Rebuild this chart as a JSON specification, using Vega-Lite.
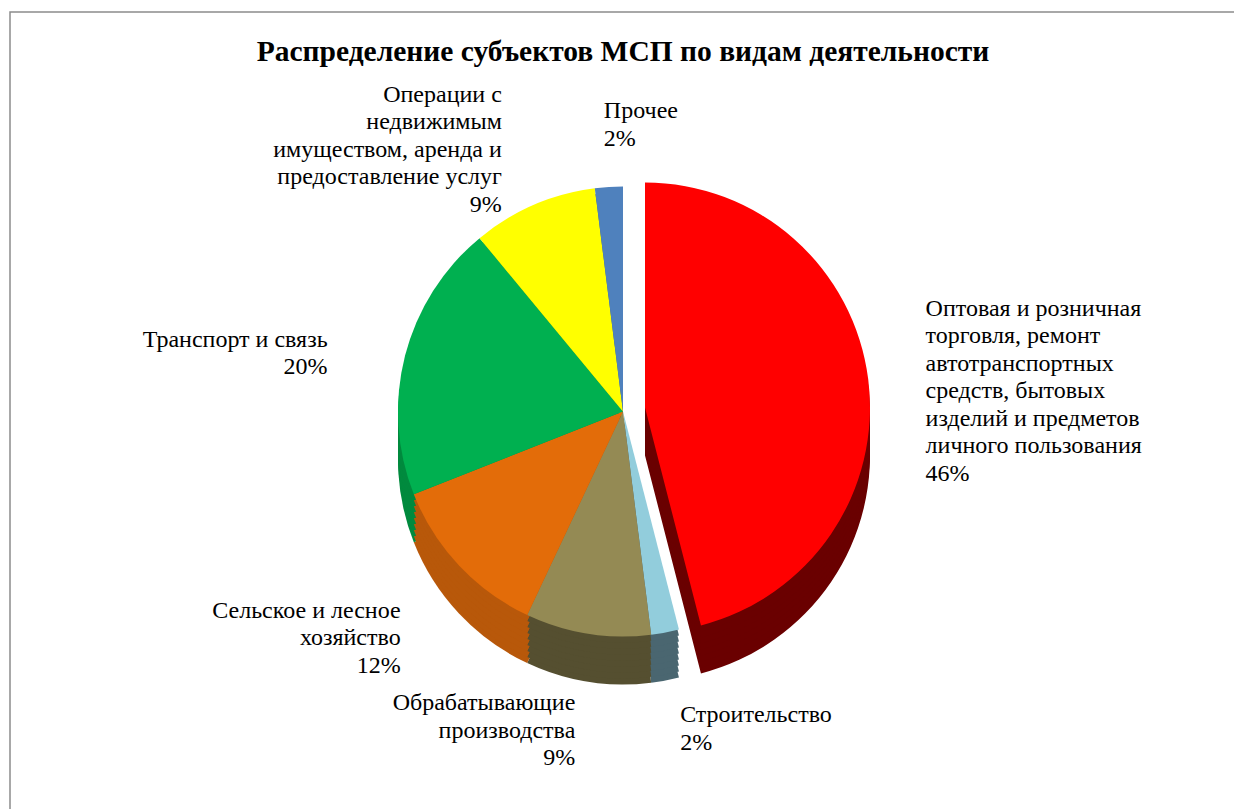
{
  "$schema": "https://vega.github.io/schema/vega-lite/v6.json",
  "width": 1234,
  "height": 809,
  "autosize": {"type": "fit", "contains": "padding"},
  "padding": {"left": 9, "top": 11, "right": -3, "bottom": -3},
  "background": "white",
  "config": {"view": {"stroke": null}, "font": "Liberation Serif", "text": {"font": "Liberation Serif"}},
  "title": {
    "text": "Распределение субъектов МСП по видам деятельности",
    "font": "Liberation Serif",
    "fontSize": 29.5,
    "fontWeight": "bold",
    "color": "black",
    "anchor": "middle",
    "offset": -56
  },
  "data": {
    "values": [
      {"cat": "Оптовая и розничная\nторговля, ремонт\nавтотранспортных\nсредств, бытовых\nизделий и предметов\nличного пользования", "share": 46},
      {"cat": "Строительство", "share": 2},
      {"cat": "Обрабатывающие\nпроизводства", "share": 9},
      {"cat": "Сельское и лесное\nхозяйство", "share": 12},
      {"cat": "Транспорт и связь", "share": 20},
      {"cat": "Операции с\nнедвижимым\nимуществом, аренда и\nпредоставление услуг", "share": 9},
      {"cat": "Прочее", "share": 2}
    ]
  },
  "transform": [
    {"window": [{"op": "sum", "field": "share", "as": "s1"}], "frame": [null, 0]},
    {"calculate": "datum.s1 - datum.share", "as": "s0"},
    {"calculate": "datum.s1 - datum.share / 2", "as": "mid"},
    {"calculate": "split(datum.cat + '\\n' + datum.share + '%', '\\n')", "as": "lbl"}
  ],
  "layer": [
    {
      "data": {"values": [{"frame": 1}]},
      "mark": {"type": "rect", "filled": false, "stroke": "#8c8c8c", "strokeWidth": 1.5},
      "encoding": {}
    },
    {
      "encoding": {
        "theta": {"field": "s0", "type": "quantitative", "scale": {"domain": [0, 100]}},
        "theta2": {"field": "s1"},
        "color": {
          "field": "cat", "type": "nominal", "legend": null,
          "scale": {
            "domain": ["Оптовая и розничная\nторговля, ремонт\nавтотранспортных\nсредств, бытовых\nизделий и предметов\nличного пользования", "Строительство", "Обрабатывающие\nпроизводства", "Сельское и лесное\nхозяйство", "Транспорт и связь", "Операции с\nнедвижимым\nимуществом, аренда и\nпредоставление услуг", "Прочее"],
            "range": ["#6a0000", "#4a6670", "#554f30", "#b8580a", "#008a3e", "#b3b300", "#3a5f8c"]
          }
        }
      },
      "layer": [
        {"transform": [{"filter": "datum.s0 > 0"}], "mark": {"type": "arc", "radius": 225, "yOffset": 48}},
        {"transform": [{"filter": "datum.s0 > 0"}], "mark": {"type": "arc", "radius": 225, "yOffset": 42}},
        {"transform": [{"filter": "datum.s0 > 0"}], "mark": {"type": "arc", "radius": 225, "yOffset": 36}},
        {"transform": [{"filter": "datum.s0 > 0"}], "mark": {"type": "arc", "radius": 225, "yOffset": 30}},
        {"transform": [{"filter": "datum.s0 > 0"}], "mark": {"type": "arc", "radius": 225, "yOffset": 24}},
        {"transform": [{"filter": "datum.s0 > 0"}], "mark": {"type": "arc", "radius": 225, "yOffset": 18}},
        {"transform": [{"filter": "datum.s0 > 0"}], "mark": {"type": "arc", "radius": 225, "yOffset": 12}},
        {"transform": [{"filter": "datum.s0 > 0"}], "mark": {"type": "arc", "radius": 225, "yOffset": 6}},
        {"transform": [{"filter": "datum.s0 == 0"}], "mark": {"type": "arc", "radius": 225, "xOffset": 22, "yOffset": 44}},
        {"transform": [{"filter": "datum.s0 == 0"}], "mark": {"type": "arc", "radius": 225, "xOffset": 22, "yOffset": 38}},
        {"transform": [{"filter": "datum.s0 == 0"}], "mark": {"type": "arc", "radius": 225, "xOffset": 22, "yOffset": 32}},
        {"transform": [{"filter": "datum.s0 == 0"}], "mark": {"type": "arc", "radius": 225, "xOffset": 22, "yOffset": 26}},
        {"transform": [{"filter": "datum.s0 == 0"}], "mark": {"type": "arc", "radius": 225, "xOffset": 22, "yOffset": 20}},
        {"transform": [{"filter": "datum.s0 == 0"}], "mark": {"type": "arc", "radius": 225, "xOffset": 22, "yOffset": 14}},
        {"transform": [{"filter": "datum.s0 == 0"}], "mark": {"type": "arc", "radius": 225, "xOffset": 22, "yOffset": 8}},
        {"transform": [{"filter": "datum.s0 == 0"}], "mark": {"type": "arc", "radius": 225, "xOffset": 22, "yOffset": 2}}
      ]
    },
    {
      "encoding": {
        "theta": {"field": "s0", "type": "quantitative", "scale": {"domain": [0, 100]}},
        "theta2": {"field": "s1"},
        "color": {
          "field": "cat", "type": "nominal", "legend": null,
          "scale": {
            "domain": ["Оптовая и розничная\nторговля, ремонт\nавтотранспортных\nсредств, бытовых\nизделий и предметов\nличного пользования", "Строительство", "Обрабатывающие\nпроизводства", "Сельское и лесное\nхозяйство", "Транспорт и связь", "Операции с\nнедвижимым\nимуществом, аренда и\nпредоставление услуг", "Прочее"],
            "range": ["#ff0000", "#92cddc", "#948a54", "#e36c09", "#00b050", "#ffff00", "#4f81bd"]
          }
        }
      },
      "layer": [
        {"transform": [{"filter": "datum.s0 > 0"}], "mark": {"type": "arc", "radius": 225}},
        {"transform": [{"filter": "datum.s0 == 0"}], "mark": {"type": "arc", "radius": 225, "xOffset": 22, "yOffset": -4}}
      ]
    },
    {
      "transform": [{"filter": "datum.mid >= 50 && datum.mid < 97"}],
      "mark": {"type": "text", "radius": 305, "yOffset": 18, "dy": {"expr": "-(length(datum.lbl) - 1) * 27.5 / 2"}, "align": "right", "baseline": "middle", "font": "Liberation Serif", "fontSize": 24, "lineHeight": 27.5, "color": "black"},
      "encoding": {
        "theta": {"field": "mid", "type": "quantitative", "scale": {"domain": [0, 100]}},
        "text": {"field": "lbl", "type": "nominal"}
      }
    },
    {
      "transform": [{"filter": "datum.mid < 50 || datum.mid >= 97"}],
      "mark": {"type": "text", "radius": 305, "yOffset": 18, "dy": {"expr": "-(length(datum.lbl) - 1) * 27.5 / 2"}, "align": "left", "baseline": "middle", "font": "Liberation Serif", "fontSize": 24, "lineHeight": 27.5, "color": "black"},
      "encoding": {
        "theta": {"field": "mid", "type": "quantitative", "scale": {"domain": [0, 100]}},
        "text": {"field": "lbl", "type": "nominal"}
      }
    }
  ],
  "resolve": {"scale": {"color": "independent"}}
}
